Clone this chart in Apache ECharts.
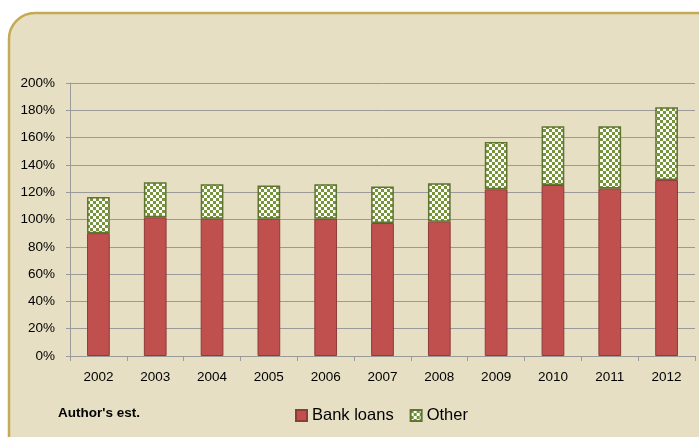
<!DOCTYPE html>
<html>
<head>
<meta charset="utf-8">
<script src="https://cdn.jsdelivr.net/npm/echarts@6/dist/echarts.min.js"></script>
<style>
  html, body { margin: 0; padding: 0; background: #ffffff; }
  #chart { width: 699px; height: 437px; }
</style>
</head>
<body>
<div id="chart"></div>
<script>
// Debt as share of GDP, by source (percent)
const years = ['2002', '2003', '2004', '2005', '2006', '2007', '2008', '2009', '2010', '2011', '2012'];
const bankLoans = [90, 101.6, 100.6, 100.5, 100.5, 97.4, 98.4, 122.1, 125.3, 122.8, 128.9];
const other = [26.5, 25.6, 25.2, 24.4, 25.4, 26.7, 28.2, 34.7, 43.0, 45.5, 53.3];
const yTicks = [0, 20, 40, 60, 80, 100, 120, 140, 160, 180, 200];

// Small checkerboard tile used as the fill of the "Other" bars
function checkerTile() {
  const c = document.createElement('canvas');
  const s = 3;
  c.width = s * 2; c.height = s * 2;
  const g = c.getContext('2d');
  g.fillStyle = '#ffffff';
  g.fillRect(0, 0, s * 2, s * 2);
  g.fillStyle = '#77933C';
  g.fillRect(0, 0, s, s);
  g.fillRect(s, s, s, s);
  return c;
}

const font = 'Liberation Sans, Arial, sans-serif';
const chart = echarts.init(document.getElementById('chart'), null, { renderer: 'canvas' });

chart.setOption({
  backgroundColor: '#ffffff',
  animation: false,
  graphic: [
    {
      type: 'rect',
      z: -10,
      shape: { x: 9, y: 13, width: 720, height: 460, r: 26 },
      style: { fill: '#E6DFC4', stroke: '#C4AA52', lineWidth: 2.5 }
    },
    {
      type: 'text',
      left: 58, top: 406,
      style: { text: "Author's est.", font: 'bold 13.5px ' + font, fill: '#000000' }
    }
  ],
  legend: {
    data: ['Bank loans', 'Other'],
    left: 290, top: 402,
    icon: 'rect',
    itemWidth: 11, itemHeight: 11, itemGap: 16,
    textStyle: { fontFamily: font, fontSize: 16.5, color: '#000000' }
  },
  grid: { left: 70, right: 4, top: 83, bottom: 81, containLabel: false },
  xAxis: {
    type: 'category',
    data: years,
    axisLine: { lineStyle: { color: '#9A9A9A', width: 1 } },
    axisTick: { show: true, length: 5, lineStyle: { color: '#9A9A9A' } },
    axisLabel: { fontFamily: font, fontSize: 13.5, color: '#000000', margin: 14 }
  },
  yAxis: {
    type: 'value',
    min: 0, max: 200, interval: 20,
    axisLine: { show: true, lineStyle: { color: '#9A9A9A' } },
    axisTick: { show: true, length: 4, lineStyle: { color: '#9A9A9A' } },
    splitLine: { lineStyle: { color: '#9A9A9A', width: 1 } },
    axisLabel: {
      fontFamily: font, fontSize: 13.5, color: '#000000', margin: 15,
      formatter: v => (yTicks.includes(v) ? v + '%' : '')
    }
  },
  series: [
    {
      name: 'Bank loans',
      type: 'bar',
      stack: 'total',
      barWidth: '40%',
      data: bankLoans,
      itemStyle: { color: '#C0504D', borderColor: '#8E3B39', borderWidth: 1 }
    },
    {
      name: 'Other',
      type: 'bar',
      stack: 'total',
      barWidth: '40%',
      data: other,
      itemStyle: {
        color: { image: checkerTile(), repeat: 'repeat' },
        borderColor: '#5E7530', borderWidth: 1.5
      }
    }
  ]
});
</script>
</body>
</html>
